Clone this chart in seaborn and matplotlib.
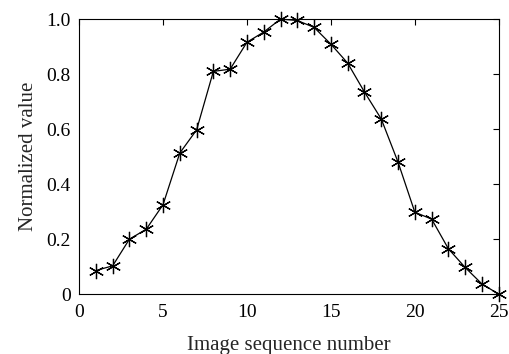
import pandas as pd
import seaborn as sns
import matplotlib.pyplot as plt

# Valeurs
frames = list(range(1, 26))
values = [0.086, 0.103, 0.200, 0.236, 0.325, 0.513, 0.597, 0.810, 0.818, 0.916,
          0.953, 1.000, 0.995, 0.970, 0.909, 0.840, 0.735, 0.637, 0.480, 0.298,
          0.273, 0.165, 0.097, 0.037, 0.000]

df = pd.DataFrame({'frame': frames, 'value': values})

sns.set_style('white')
plt.rcParams['font.family'] = ['Liberation Serif', 'DejaVu Serif']

fig = plt.figure(figsize=(5.1, 3.54), dpi=100)
ax = fig.add_axes([0.155, 0.169, 0.823, 0.777])
sns.lineplot(data=df, x='frame', y='value', color='black', linewidth=0.9,
             marker=(6, 2, 0), markersize=11, markeredgewidth=0.9,
             markeredgecolor='black', clip_on=False, ax=ax)

ax.set_xlim(0, 25)
ax.set_ylim(0, 1.0)
ax.set_xticks([0, 5, 10, 15, 20, 25])
ax.set_yticks([0, 0.2, 0.4, 0.6, 0.8, 1.0])
ax.set_yticklabels(['0', '0.2', '0.4', '0.6', '0.8', '1.0'])
ax.tick_params(direction='in', top=True, right=True, length=4, width=0.8,
               labelsize=14, colors='black')
ax.tick_params(axis='x', pad=7)
ax.tick_params(axis='y', pad=6)
for s in ax.spines.values():
    s.set_color('black')
    s.set_linewidth(0.8)
ax.set_xlabel('Image sequence number', fontsize=15, labelpad=11)
ax.set_ylabel('Normalized value', fontsize=15, labelpad=6)

fig.savefig('out.png', dpi=100)
